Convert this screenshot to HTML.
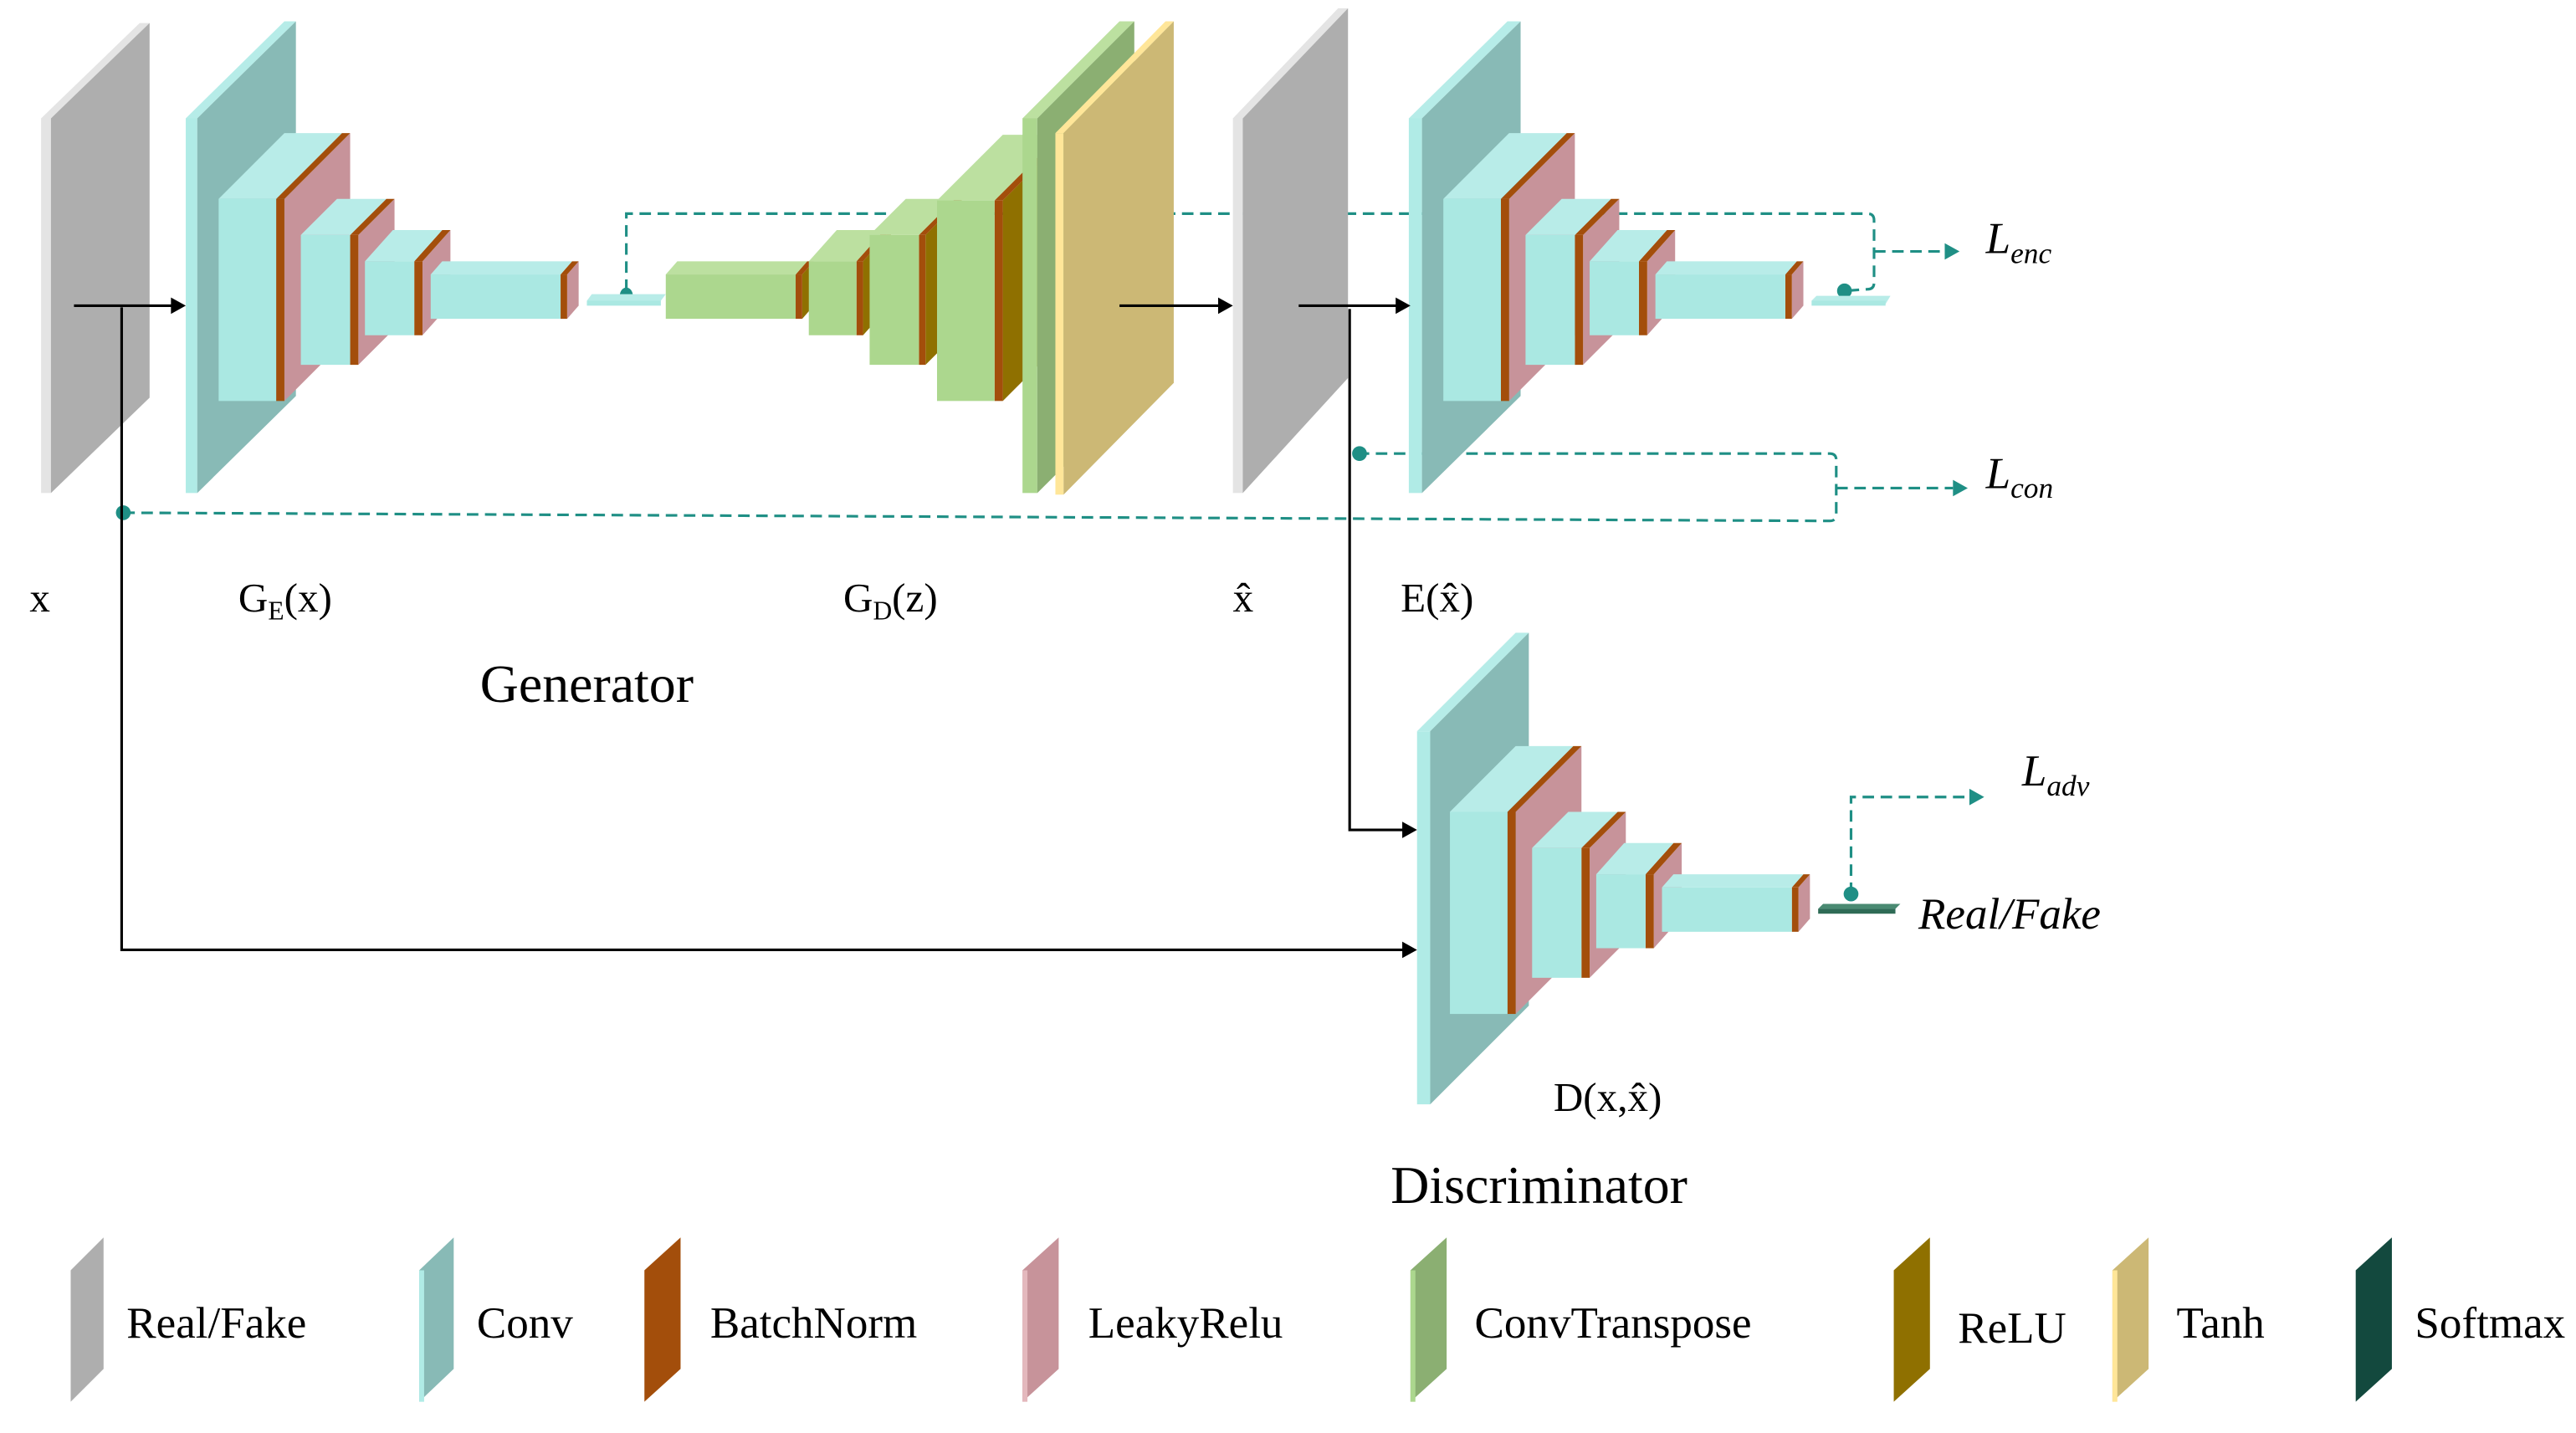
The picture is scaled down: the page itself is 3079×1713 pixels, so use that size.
<!DOCTYPE html>
<html><head><meta charset="utf-8"><style>html,body{margin:0;padding:0;background:#fff}svg{display:block}</style></head><body>
<svg width="3079" height="1713" viewBox="0 0 1567 872" preserveAspectRatio="none" xmlns="http://www.w3.org/2000/svg" font-family="'Liberation Serif', serif">
<defs>
<g id="enc">
 <polygon points="173,121 213,81 213,204 173,244" fill="#c7939a"/>
 <rect x="168" y="121" width="5" height="123" fill="#a34e0b"/><polygon points="168,121 208,81 213,81 173,121" fill="#a34e0b"/>
 <polygon points="133,121 173,81 208,81 168,121" fill="#b8ece8"/><rect x="133" y="121" width="35" height="123" fill="#aae8e2"/>
 <polygon points="218,143 240,121 240,200 218,222" fill="#c7939a"/>
 <rect x="213" y="143" width="5" height="79" fill="#a34e0b"/><polygon points="213,143 235,121 240,121 218,143" fill="#a34e0b"/>
 <polygon points="183,143 205,121 235,121 213,143" fill="#b8ece8"/><rect x="183" y="143" width="30" height="79" fill="#aae8e2"/>
 <polygon points="257,159 274,140 274,185 257,204" fill="#c7939a"/>
 <rect x="252" y="159" width="5" height="45" fill="#a34e0b"/><polygon points="252,159 269,140 274,140 257,159" fill="#a34e0b"/>
 <polygon points="222,159 239,140 269,140 252,159" fill="#b8ece8"/><rect x="222" y="159" width="30" height="45" fill="#aae8e2"/>
 <polygon points="345,167 352,159 352,186 345,194" fill="#c7939a"/>
 <rect x="341" y="167" width="4" height="27" fill="#a34e0b"/><polygon points="341,167 348,159 352,159 345,167" fill="#a34e0b"/>
 <polygon points="262,167 269,159 348,159 341,167" fill="#b8ece8"/><rect x="262" y="167" width="79" height="27" fill="#aae8e2"/>
</g>
</defs>

<g fill="none" stroke="#1f8f85" stroke-width="1.6" stroke-dasharray="7 4">
 <path d="M381,177 V130 H1136 Q1140,130 1140,134 V172 Q1140,176 1136,176 L1122,177"/>
 <path d="M1140,153 H1183"/>
 <path d="M75,312 L1113,317 Q1117,317 1117,313 V280 Q1117,276 1113,276 H827"/>
 <path d="M1117,297 H1188"/>
 <path d="M1126,544 V485 H1198"/>
</g>
<g fill="#1f8f85">
 <polygon points="1183,148 1192,153 1183,158"/>
 <polygon points="1188,292 1197,297 1188,302"/>
 <polygon points="1198,480 1207,485 1198,490"/>
 <circle cx="75" cy="312" r="4.5"/><circle cx="827" cy="276" r="4.5"/><circle cx="1122" cy="177" r="4.5"/><circle cx="1126" cy="544" r="4.5"/>
 <path d="M377,180 A4,5 0 0 1 385,180 Z"/>
</g>

<polygon points="25,72 85,14 91,14 31,72" fill="#e4e4e4"/>
<rect x="25" y="72" width="6" height="228" fill="#e4e4e4"/>
<polygon points="31,72 91,14 91,242 31,300" fill="#aeaeae"/>

<polygon points="113,72 173,13 180,13 120,72" fill="#b6ece8"/>
<rect x="113" y="72" width="7" height="228" fill="#b0ebe6"/>
<polygon points="120,72 180,13 180,241 120,300" fill="#88bab6"/>
<use href="#enc"/>
<polygon points="357,183 360,179 405,179 402,183" fill="#b8ece8"/>
<rect x="357" y="183" width="45" height="3" fill="#aae8e2"/>

<polygon points="488,167 495,159 495,186 488,194" fill="#8f7000"/>
<rect x="484" y="167" width="4" height="27" fill="#a34e0b"/><polygon points="484,167 491,159 495,159 488,167" fill="#a34e0b"/>
<polygon points="405,167 412,159 491,159 484,167" fill="#bce0a0"/><rect x="405" y="167" width="79" height="27" fill="#acd78e"/>
<polygon points="525,159 542,140 542,185 525,204" fill="#8f7000"/>
<rect x="521" y="159" width="4" height="45" fill="#a34e0b"/><polygon points="521,159 538,140 542,140 525,159" fill="#a34e0b"/>
<polygon points="492,159 509,140 538,140 521,159" fill="#bce0a0"/><rect x="492" y="159" width="29" height="45" fill="#acd78e"/>
<polygon points="563,143 585,121 585,200 563,222" fill="#8f7000"/>
<rect x="559" y="143" width="4" height="79" fill="#a34e0b"/><polygon points="559,143 581,121 585,121 563,143" fill="#a34e0b"/>
<polygon points="529,143 551,121 581,121 559,143" fill="#bce0a0"/><rect x="529" y="143" width="30" height="79" fill="#acd78e"/>
<polygon points="610,122 650,82 650,204 610,244" fill="#8f7000"/>
<rect x="605" y="122" width="5" height="122" fill="#a34e0b"/><polygon points="605,122 645,82 650,82 610,122" fill="#a34e0b"/>
<polygon points="570,122 610,82 645,82 605,122" fill="#bce0a0"/><rect x="570" y="122" width="35" height="122" fill="#acd78e"/>

<polygon points="622,72 681,13 690,13 631,72" fill="#bce0a0"/>
<rect x="622" y="72" width="9" height="228" fill="#acd78e"/>
<polygon points="631,72 690,13 690,241 631,300" fill="#8baf72"/>
<polygon points="642,81 709,13 714,13 647,81" fill="#ffe699"/>
<rect x="642" y="81" width="5" height="220" fill="#ffe699"/>
<polygon points="647,81 714,13 714,233 647,301" fill="#ccb875"/>

<polygon points="750,72 814,5 820,5 756,72" fill="#e4e4e4"/>
<rect x="750" y="72" width="6" height="228" fill="#e4e4e4"/>
<polygon points="756,72 820,5 820,230 756,300" fill="#aeaeae"/>

<polygon points="857,72 917,13 925,13 865,72" fill="#b6ece8"/>
<rect x="857" y="72" width="8" height="228" fill="#b0ebe6"/>
<polygon points="865,72 925,13 925,241 865,300" fill="#88bab6"/>
<use href="#enc" transform="translate(745,0)"/>
<polygon points="1102,183 1105,180 1150,180 1147,185" fill="#b8ece8"/>
<rect x="1102" y="183" width="45" height="3" fill="#aae8e2"/>

<polygon points="862,445 922,385 930,385 870,445" fill="#b6ece8"/>
<rect x="862" y="445" width="8" height="227" fill="#b0ebe6"/>
<polygon points="870,445 930,385 930,612 870,672" fill="#88bab6"/>
<use href="#enc" transform="translate(749,373)"/>
<polygon points="1106,553 1109,550 1156,550 1153,553" fill="#4a8a72"/>
<rect x="1106" y="553" width="47" height="3" fill="#2e6b56"/>

<g stroke="#000" stroke-width="1.6" fill="none">
 <path d="M45,186 H106"/><path d="M74,187 V578 H855"/>
 <path d="M681,186 H743"/><path d="M790,186 H851"/><path d="M821,188 V505 H855"/>
</g>
<g fill="#000">
 <polygon points="104,181 113,186 104,191"/><polygon points="853,573 862,578 853,583"/>
 <polygon points="741,181 750,186 741,191"/><polygon points="849,181 858,186 849,191"/>
 <polygon points="853,500 862,505 853,510"/>
</g>

<g font-size="25" fill="#000">
 <text x="18" y="372">x</text>
 <text x="145" y="372">G<tspan font-size="16" dy="5">E</tspan><tspan dy="-5">(x)</tspan></text>
 <text x="513" y="372">G<tspan font-size="16" dy="5">D</tspan><tspan dy="-5">(z)</tspan></text>
 <text x="750" y="372">x̂</text>
 <text x="852" y="372">E(x̂)</text>
 <text x="945" y="676">D(x,x̂)</text>
 <text x="292" y="427" font-size="32.5">Generator</text>
 <text x="846" y="732" font-size="32.5">Discriminator</text>
 <g font-style="italic" font-size="27">
  <text x="1208" y="154">L<tspan font-size="18" dy="6">enc</tspan></text>
  <text x="1208" y="297">L<tspan font-size="18" dy="6">con</tspan></text>
  <text x="1230" y="478">L<tspan font-size="18" dy="6">adv</tspan></text>
  <text x="1167" y="565">Real/Fake</text>
 </g>
</g>

<g>
 <polygon points="43,773 63,753 63,833 43,853" fill="#aeaeae"/>
 <polygon points="255,773 276,753 276,833 255,853" fill="#88bab6"/><rect x="255" y="773" width="3" height="80" fill="#b0ebe6"/>
 <polygon points="392,773 414,753 414,833 392,853" fill="#a34e0b"/>
 <polygon points="622,773 644,753 644,833 622,853" fill="#c7939a"/><rect x="622" y="773" width="3" height="80" fill="#e4b8bd"/>
 <polygon points="858,773 880,753 880,833 858,853" fill="#8baf72"/><rect x="858" y="773" width="3" height="80" fill="#acd78e"/>
 <polygon points="1152,773 1174,753 1174,833 1152,853" fill="#8f7000"/>
 <polygon points="1285,773 1307,753 1307,833 1285,853" fill="#ccb875"/><rect x="1285" y="773" width="3" height="80" fill="#ffe699"/>
 <polygon points="1433,773 1455,753 1455,833 1433,853" fill="#13493e"/>
</g>
<g font-size="27" fill="#000">
 <text x="77" y="814">Real/Fake</text>
 <text x="290" y="814">Conv</text>
 <text x="432" y="814">BatchNorm</text>
 <text x="662" y="814">LeakyRelu</text>
 <text x="897" y="814">ConvTranspose</text>
 <text x="1191" y="817">ReLU</text>
 <text x="1324" y="814">Tanh</text>
 <text x="1469" y="814">Softmax</text>
</g>
</svg>
</body></html>
